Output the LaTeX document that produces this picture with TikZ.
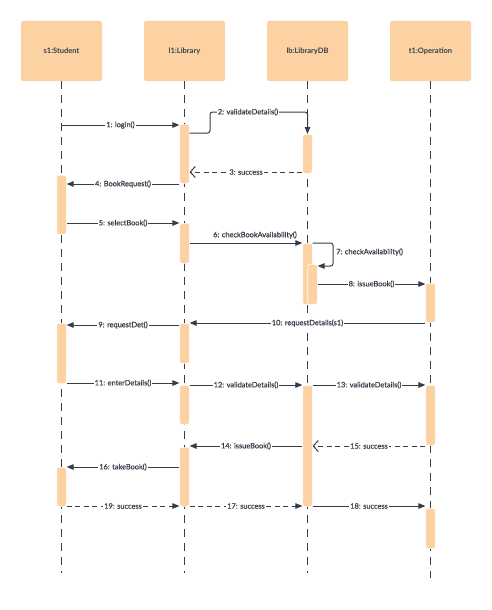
\documentclass[tikz,border=0pt]{standalone}
\usepackage{fontspec}
\setmainfont{Lato}
\newfontfamily\lblfont[FakeBold=0.5]{Lato}
\usetikzlibrary{arrows.meta}
\definecolor{peach}{HTML}{FCD2A3}
\definecolor{ink}{HTML}{363D48}
\tikzset{
 head/.style={fill=peach, rounded corners=2pt, minimum width=81pt, minimum height=60pt, inner sep=0pt, font=\fontsize{7.5}{9}\selectfont\bfseries, text=ink},
 life/.style={draw=ink, line width=0.9pt, dash pattern=on 8pt off 6pt},
 act/.style={fill=peach, draw=white, line width=0.6pt, rounded corners=2pt, minimum width=9.6pt, inner sep=0pt, anchor=north},
 msg/.style={draw=ink, line width=1pt, -{Triangle[length=7pt,width=5.5pt]}},
 ret/.style={draw=ink, line width=1pt, dash pattern=on 5pt off 3.5pt, -{Straight Barb[length=5pt,width=11pt]}},
 dmsg/.style={msg, dash pattern=on 5pt off 3.5pt},
 lbl/.style={fill=white, inner sep=1pt, text=ink, font=\lblfont\fontsize{7.4}{9}\selectfont},
}
\begin{document}
\begin{tikzpicture}[x=1pt,y=-1pt]
\useasboundingbox (0,0) rectangle (492,610);
% heads
\node[head] (S) at (61.5,51) {s1:Student};
\node[head] (L) at (184.5,51) {l1:Library};
\node[head] (D) at (307.5,51) {lb:LibraryDB};
\node[head] (O) at (430.5,51) {t1:Operation};
\coordinate (Se) at (61.5,573);
\coordinate (Le) at (184.5,573);
\coordinate (De) at (307.5,573);
\coordinate (Oe) at (430.5,578);
\draw[life] (S.south) -- (Se);
\draw[life] (L.south) -- (Le);
\draw[life] (D.south) -- (De);
\draw[life] (O.south) -- (Oe);
% activation bars
\node[act, minimum height=59pt] (L1) at (184.5,124) {};
\node[act, minimum height=39pt] (D1) at (307.5,134) {};
\node[act, minimum height=59pt] (S1) at (61.5,175) {};
\node[act, minimum height=40pt] (L2) at (184.5,223) {};
\node[act, minimum height=61pt] (D2) at (307.5,243) {};
\node[act, minimum height=40pt] (D3) at (312.5,264) {};
\node[act, minimum height=39pt] (O1) at (430.5,283) {};
\node[act, minimum height=60pt] (S2) at (61.5,323) {};
\node[act, minimum height=40pt] (L3) at (184.5,323) {};
\node[act, minimum height=39pt] (L4) at (184.5,385) {};
\node[act, minimum height=121pt] (D4) at (307.5,385) {};
\node[act, minimum height=60pt] (O2) at (430.5,385) {};
\node[act, minimum height=59pt] (L5) at (184.5,447) {};
\node[act, minimum height=39pt] (S3) at (61.5,467) {};
\node[act, minimum height=40pt] (O3) at (430.5,508) {};
% message levels
\coordinate (m1) at (0,125);
\coordinate (m2a) at (0,133);
\coordinate (m2b) at (0,112);
\coordinate (k1) at (210,133);
\coordinate (k2) at (210,112);
\coordinate (m3) at (0,172);
\coordinate (m4) at (0,184);
\coordinate (m5) at (0,223);
\coordinate (m6) at (0,243);
\coordinate (k3) at (333,243);
\coordinate (k4) at (333,266);
\coordinate (m7) at (0,266);
\coordinate (m8) at (0,284);
\coordinate (m10) at (0,323);
\coordinate (m9) at (0,325);
\coordinate (m11) at (0,383);
\coordinate (m12) at (0,385);
\coordinate (m14) at (0,446);
\coordinate (m16) at (0,467);
\coordinate (m19) at (0,506);
% messages
\draw[msg] (S.south |- m1) -- (L1.west |- m1) node[lbl,midway] {1: login()};
\draw[msg, rounded corners=2.5pt] (L1.east |- m2a) -- (k1) -- (k2) -- (D.south |- m2b) -- (D1.north);
\node[lbl] (t2) at (248,112) {2: validateDetails()};
\draw[ret] (D1.west |- m3) -- (L1.east |- m3) node[lbl,midway] {3: success};
\draw[msg] (L1.west |- m4) -- (S1.east |- m4) node[lbl,midway] {4: BookRequest()};
\draw[msg] (S1.east |- m5) -- (L2.west |- m5) node[lbl,midway] {5: selectBook()};
\draw[msg] (L2.east |- m6) -- (D2.west |- m6);
\node[lbl, fill=none] (t6) at (255,235) {6: checkBookAvailability()};
\draw[msg, rounded corners=2.5pt] (D2.east |- m6) -- (k3) -- (k4) -- (D3.east |- m7);
\node[lbl, fill=none, anchor=west] (t7) at (335,252) {7: checkAvailability()};
\draw[msg] (D3.east |- m8) -- (O1.west |- m8) node[lbl,midway] {8: issueBook()};
\draw[msg] (O1.west |- m10) -- (L3.east |- m10) node[lbl,midway] {10: requestDetails(s1)};
\draw[msg] (L3.west |- m9) -- (S2.east |- m9) node[lbl,midway] {9: requestDet()};
\draw[msg] (S2.east |- m11) -- (L4.west |- m11) node[lbl,midway] {11: enterDetails()};
\draw[msg] (L4.east |- m12) -- (D4.west |- m12) node[lbl,midway] {12: validateDetails()};
\draw[msg] (D4.east |- m12) -- (O2.west |- m12) node[lbl,midway] {13: validateDetails()};
\draw[msg] (D4.west |- m14) -- (L5.east |- m14) node[lbl,midway] {14: issueBook()};
\draw[ret] (O2.west |- m14) -- (D4.east |- m14) node[lbl,midway] {15: success};
\draw[msg] (L5.west |- m16) -- (S3.east |- m16) node[lbl,midway] {16: takeBook()};
\draw[dmsg] (S3.east |- m19) -- (L5.west |- m19) node[lbl,midway] {19: success};
\draw[dmsg] (L5.east |- m19) -- (D4.west |- m19) node[lbl,midway] {17: success};
\draw[msg] (D4.east |- m19) -- (O3.west |- m19) node[lbl,midway] {18: success};
\end{tikzpicture}
\end{document}
